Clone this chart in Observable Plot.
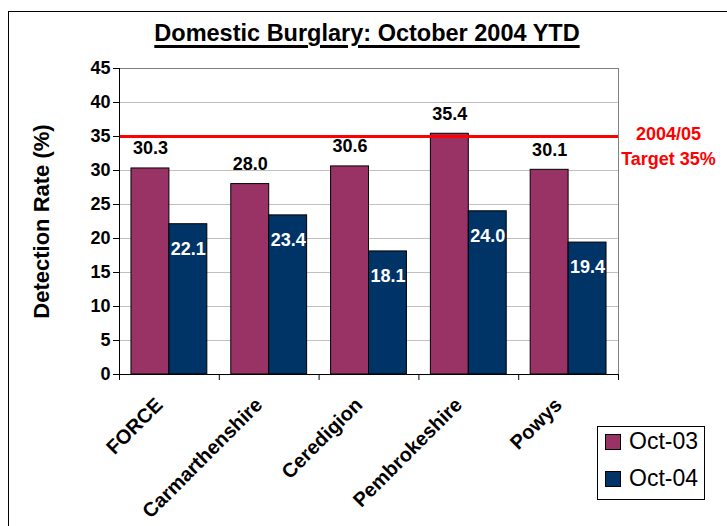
<!DOCTYPE html>
<html><head><meta charset="utf-8">
<script src="https://cdn.jsdelivr.net/npm/d3@7"></script>
<script src="https://cdn.jsdelivr.net/npm/@observablehq/plot@0.6"></script>
<style>
body{margin:0;background:#fff;font-family:"Liberation Sans",Arial,sans-serif;}
#wrap{position:relative;width:727px;height:526px;overflow:hidden;background:#fff;}
#border{position:absolute;left:8px;top:11px;width:800px;height:600px;border:1px solid #000;}
#chart{position:absolute;left:0;top:0;}
#title{position:absolute;left:0;width:734px;top:20px;text-align:center;font-weight:bold;font-size:23.5px;line-height:27px;text-decoration:underline;text-decoration-thickness:3px;text-underline-offset:4px;}
#legend{position:absolute;left:597px;top:426px;width:108px;height:74px;border:1px solid #000;background:#fff;box-sizing:border-box;}
.item{position:absolute;left:7px;display:flex;align-items:center;font-size:23px;}
.sw{width:14px;height:14px;border:1px solid #000;margin-right:8px;}
g[aria-label="y-axis label"] text{font-size:22px;}
</style></head>
<body>
<div id="wrap">
  <div id="border"></div>
  <div id="chart"></div>
  <div id="title"></div>
  <div id="legend"></div>
</div>
<script>
const title = "Domestic Burglary: October 2004 YTD";
const categories = ["FORCE", "Carmarthenshire", "Ceredigion", "Pembrokeshire", "Powys"];
const series = ["Oct-03", "Oct-04"];
const oct03 = [30.3, 28.0, 30.6, 35.4, 30.1];
const oct04 = [22.1, 23.4, 18.1, 24.0, 19.4];
const yTicks = [0, 5, 10, 15, 20, 25, 30, 35, 40, 45];
const target = 35;
const targetLabel = ["2004/05", "Target 35%"];
const colors = ["#993366", "#003366"];

document.getElementById("title").textContent = title;

const rows = categories.flatMap((c, i) => [
  {cat: c, i, s: 0, series: series[0], v: oct03[i]},
  {cat: c, i, s: 1, series: series[1], v: oct04[i]}
]);
const pad = 0.12, bw = 0.38;
const x1 = d => d.i + pad + d.s * bw;
const x2 = d => d.i + pad + (d.s + 1) * bw;
const xc = d => d.i + pad + (d.s + 0.5) * bw;

const chart = Plot.plot({
  width: 727, height: 526,
  marginLeft: 119, marginRight: 109, marginTop: 68, marginBottom: 152,
  style: {fontFamily: "'Liberation Sans', Arial, sans-serif", fontWeight: "bold", fontSize: "18px", color: "#000", background: "transparent", overflow: "visible"},
  x: {domain: [0, categories.length], axis: null},
  y: {domain: [0, 45], axis: null},
  color: {domain: series, range: colors},
  marks: [
    Plot.gridY(yTicks, {stroke: "#c0c0c0", strokeOpacity: 1}),
    Plot.frame({stroke: "#808080"}),
    Plot.rectY(rows, {x1, x2, y: "v", fill: "series", stroke: "#000", strokeWidth: 1}),
    Plot.ruleY([target], {stroke: "#ff0000", strokeWidth: 3}),
    Plot.ruleX([0], {stroke: "#000"}),
    Plot.ruleY([0], {stroke: "#000"}),
    Plot.axisY(yTicks, {tickSize: 6, tickPadding: 3, fontSize: 18, label: "Detection Rate (%)", labelAnchor: "center", labelOffset: 86, labelArrow: "none"}),
    Plot.axisX(d3.range(0, categories.length + 1), {tickSize: 6, tickFormat: () => "", label: null}),
    Plot.axisX(categories.map((c, i) => i + 0.5), {tickSize: 0, tickPadding: 27, dx: -10, tickRotate: -45, fontSize: 20, tickFormat: d => categories[Math.floor(d)], label: null}),
    Plot.text(rows.filter(d => d.s === 0), {x: xc, y: "v", text: d => d.v.toFixed(1), dy: -20, fill: "#000", fontSize: 18, fontWeight: "bold"}),
    Plot.text(rows.filter(d => d.s === 1), {x: xc, y: "v", text: d => d.v.toFixed(1), dy: 25, fill: "#fff", fontSize: 18, fontWeight: "bold"}),
    Plot.text([targetLabel.join("\n")], {x: categories.length, y: target, text: d => d, dx: 50, dy: 8, fill: "#ff0000", fontSize: 18, fontWeight: "bold", lineHeight: 1.38, textAnchor: "middle"})
  ]
});
document.getElementById("chart").appendChild(chart);

const legend = document.getElementById("legend");
series.forEach((s, k) => {
  const it = document.createElement("div");
  it.className = "item";
  it.style.top = (k === 0 ? 1 : 38) + "px";
  const sw = document.createElement("div");
  sw.className = "sw";
  sw.style.background = colors[k];
  const t = document.createElement("span");
  t.textContent = s;
  it.appendChild(sw); it.appendChild(t);
  legend.appendChild(it);
});
</script>
</body></html>
